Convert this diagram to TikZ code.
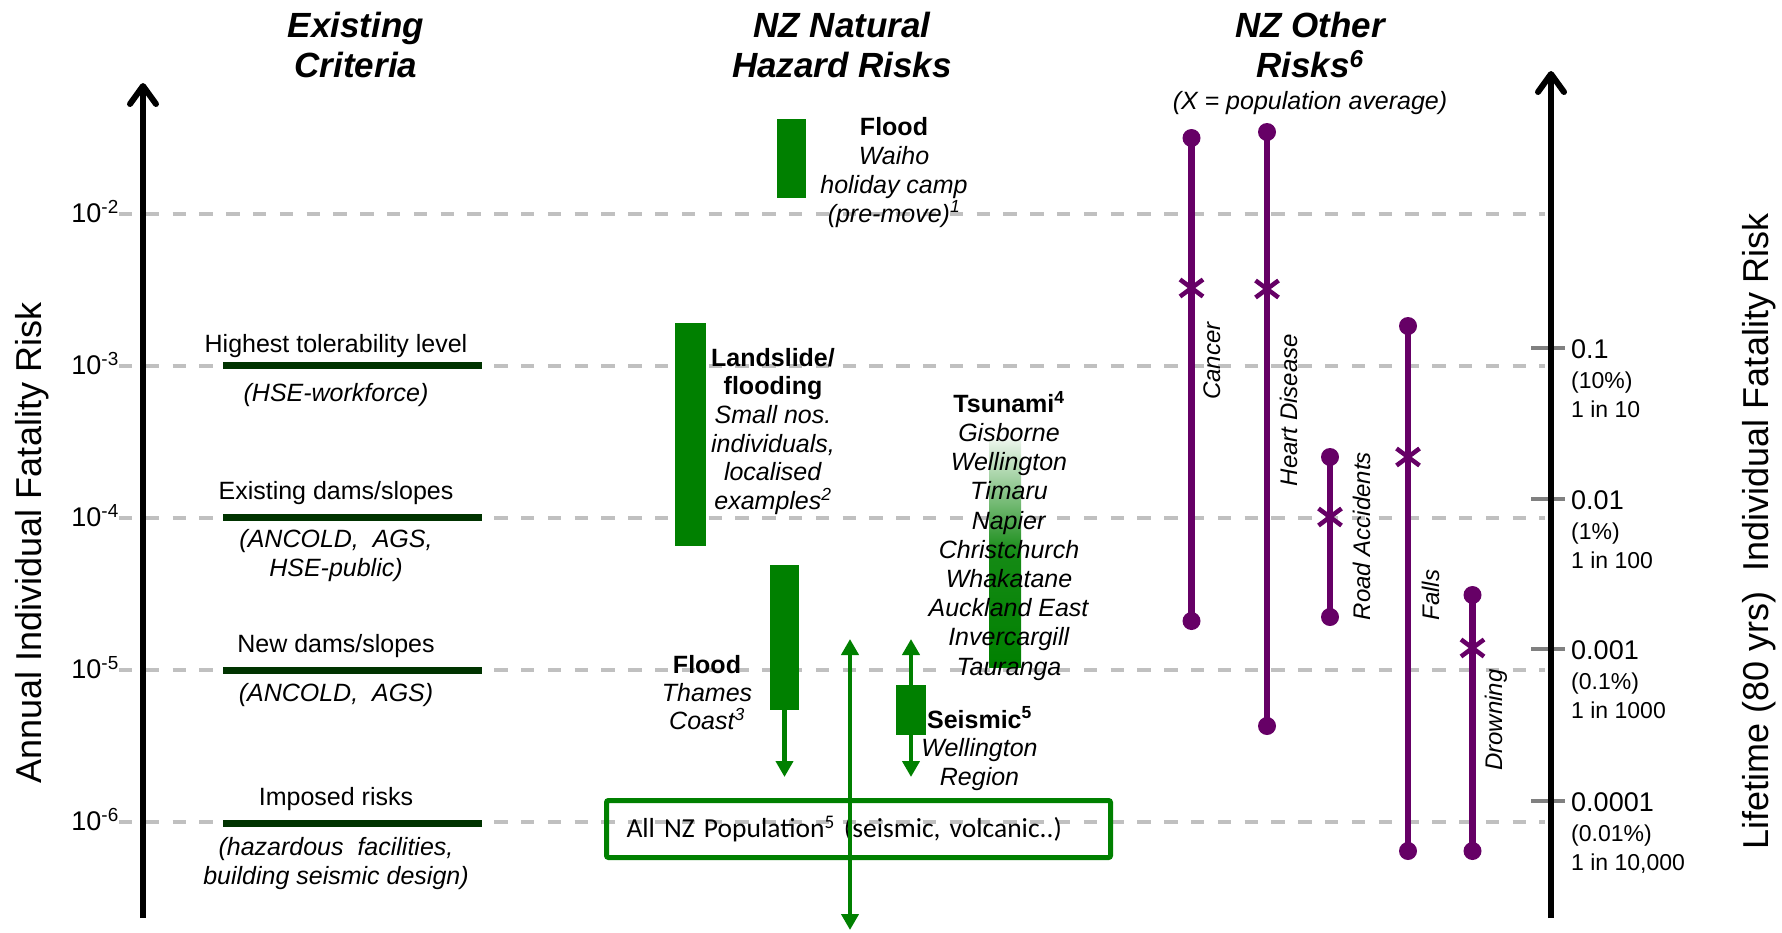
\documentclass[tikz,border=0pt]{standalone}
\usepackage{fontspec}
\setmainfont{Liberation Sans}
\setsansfont{Liberation Sans}
\newfontfamily\calibrifont{Carlito}
\usetikzlibrary{arrows.meta}
\definecolor{hazgreen}{RGB}{0,128,0}
\definecolor{critgreen}{RGB}{0,51,0}
\definecolor{riskpurple}{RGB}{102,0,102}
\definecolor{gridgray}{RGB}{192,192,192}
\definecolor{tickgray}{RGB}{128,128,128}

\begin{document}
\begin{tikzpicture}[font=\sffamily,x=1pt,y=-1pt,
  head/.style={font=\fontsize{35}{38}\selectfont\bfseries\itshape,anchor=base,inner sep=0pt},
  lbl/.style={font=\fontsize{25}{29}\selectfont,anchor=base,inner sep=0pt},
  note/.style={font=\fontsize{25}{29}\selectfont\itshape,anchor=base,inner sep=0pt},
  small/.style={font=\fontsize{23}{27}\selectfont,anchor=base west,inner sep=0pt},
  side/.style={font=\fontsize{36}{40}\selectfont,anchor=base,rotate=90,inner sep=0pt},
  risklbl/.style={font=\fontsize{24}{28}\selectfont\itshape,anchor=base,rotate=90,inner sep=0pt},
  grid/.style={gridgray,line width=4.5pt,dash pattern=on 13.4pt off 13.4pt},
  crit/.style={critgreen,line width=7pt},
  bar/.style={fill=hazgreen,draw=none,inner sep=0pt},
  garrow/.style={hazgreen,line width=4.5pt,-{Triangle[length=16pt,width=17pt]}},
  dgarrow/.style={garrow,{Triangle[length=16pt,width=17pt]}-{Triangle[length=16pt,width=17pt]}},
  axis/.style={line width=6pt,-{Straight Barb[length=18pt,width=26pt,line cap=round,line join=round]}},
  risk/.style={riskpurple,line width=6.5pt}]
\useasboundingbox (0,0) rectangle (1782,932);

\foreach \e/\y in {2/214,3/366,4/518,5/670,6/822}{
  \draw[grid] (119,\y) -- (1545,\y);
  \node[anchor=base east,font=\fontsize{27}{30}\selectfont,inner sep=0pt] (exp\e) at (119,\y+8.5) {10\textsuperscript{-\e}};
}
\foreach \y/\v/\p/\n [count=\i] in {348/0.1/10/10, 499/0.01/1/100, 649/0.001/0.1/1000, 801/0.0001/0.01/{10,000}}{
  \draw[tickgray,line width=4pt] (1531,\y) -- (1565,\y);
  \node[anchor=base west,font=\fontsize{27}{30}\selectfont,inner sep=0pt] (life\i) at (1571,\y+10) {\v};
  \node[small] (pct\i) at (1571,\y+40) {(\p\%)};
  \node[small] (odds\i) at (1571,\y+69) {1 in \n};
}

\coordinate (lbot) at (143,918);
\coordinate (ltop) at (143,83);
\coordinate (rbot) at (1551,918);
\coordinate (rtop) at (1551,71);
\draw[axis] (lbot) -- (ltop);
\draw[axis] (rbot) -- (rtop);
\node[side] (annual) at (41,543) {Annual Individual Fatality Risk};
\node[side] (lifetime) at (1768,531) {Lifetime (80 yrs)\ \ Individual Fatality Risk};

\foreach \x/\a/\b [count=\i] in {356/Existing/Criteria, 842/NZ Natural/Hazard Risks, 1310/NZ Other/Risks\textsuperscript{6}}{
  \node[head] (heada\i) at (\x,37) {\a};
  \node[head] (headb\i) at (\x,77) {\b};
}
\node[note] (popavg) at (1310,109) {(X = population average)};

\foreach \y/\up/\t [count=\i] in {365/13/{Highest tolerability level}, 517/18/{Existing dams/slopes}, 670/18/{New dams/slopes}, 823/18/{Imposed risks}}{
  \draw[crit] (223,\y) -- (482,\y);
  \node[lbl] (crit\i) at (336,\y-\up) {\t};
}
\foreach \y/\t [count=\i] in {401/{(HSE-workforce)}, 547/{(ANCOLD,\ \ AGS,}, 576/{HSE-public)}, 701/{(ANCOLD,\ \ AGS)}, 855/{(hazardous\ \ facilities,}, 884/{building seismic design)}}{
  \node[note] (note\i) at (336,\y) {\t};
}

\node[bar,minimum width=29pt,minimum height=79pt] (waihobar) at (791.5,158.5) {};
\node[bar,minimum width=31pt,minimum height=223pt] (slidebar) at (690.5,434.5) {};
\node[bar,minimum width=29pt,minimum height=145pt] (thamesbar) at (784.5,637.5) {};
\node[inner sep=0pt,minimum width=32pt,minimum height=227pt,top color=hazgreen!8,bottom color=hazgreen,middle color=hazgreen!92] (tsunamibar) at (1005,553.5) {};

\foreach \t [count=\i from 0] in {\textbf{Flood}, \textit{Waiho}, \textit{holiday camp}, \textit{(pre-move)\textsuperscript{1}}}
  \node[lbl] (waiho\i) at (894,135+29*\i) {\t};
\foreach \t [count=\i from 0] in {\textbf{Landslide/}, \textbf{flooding}, \textit{Small nos.}, {\textit{individuals,}}, \textit{localised}, \textit{examples\textsuperscript{2}}}
  \node[lbl] (slide\i) at (773,366+28.7*\i) {\t};
\foreach \t [count=\i from 0] in {\textbf{Tsunami\textsuperscript{4}}, \textit{Gisborne}, \textit{Wellington}, \textit{Timaru}, \textit{Napier}, \textit{Christchurch}, \textit{Whakatane}, \textit{Auckland East}, \textit{Invercargill}, \textit{Tauranga}}
  \node[lbl] (tsunami\i) at (1009,412.3+29.2*\i) {\t};
\foreach \t [count=\i from 0] in {\textbf{Flood}, \textit{Thames}, \textit{Coast\textsuperscript{3}}}
  \node[lbl] (thames\i) at (707,673+28.3*\i) {\t};
\foreach \t [count=\i from 0] in {\textbf{Seismic\textsuperscript{5}}, \textit{Wellington}, \textit{Region}}
  \node[lbl] (seismic\i) at (979.5,728+28.7*\i) {\t};

\coordinate (thamesend) at (784.5,777);
\draw[garrow] (thamesbar.south) -- (thamesend);
\coordinate (seistop) at (911,639);
\coordinate (seisend) at (911,777);
\draw[dgarrow] (seistop) -- (seisend);
\node[bar,minimum width=30pt,minimum height=50pt] (seisbar) at (911,710) {};

\node[draw=hazgreen,line width=5pt,rounded corners=2pt,anchor=west,minimum height=57pt,text width=464pt,inner xsep=20pt,align=left,font=\calibrifont\fontsize{27.5}{30}\selectfont] (allnz) at (604,829) {All NZ Population\textsuperscript{5} (seismic, volcanic..)};
\coordinate (alltop) at (850,639);
\coordinate (allbot) at (850,930);
\draw[dgarrow] (alltop) -- (allbot);

\foreach \x/\ya/\yb/\mk/\lx/\ly/\t [count=\i] in {1191.5/138/621/288/1220/361/Cancer, 1267/132/726/289/1297/410/Heart Disease, 1330/457/617/517/1370/536/Road Accidents, 1408/326/851/457/1439/595/Falls, 1472.5/595/851/648/1502/720/Drowning}{
  \coordinate (risktop\i) at (\x,\ya);
  \coordinate (riskbot\i) at (\x,\yb);
  \draw[risk] (risktop\i) -- (riskbot\i);
  \fill[riskpurple] (risktop\i) circle (9pt) (riskbot\i) circle (9pt);
  \draw[riskpurple,line width=4.5pt] (\x-11.5,\mk-8.5) -- (\x+11.5,\mk+8.5) (\x-11.5,\mk+8.5) -- (\x+11.5,\mk-8.5);
  \node[risklbl] (risk\i) at (\lx,\ly) {\t};
}
\end{tikzpicture}
\end{document}
